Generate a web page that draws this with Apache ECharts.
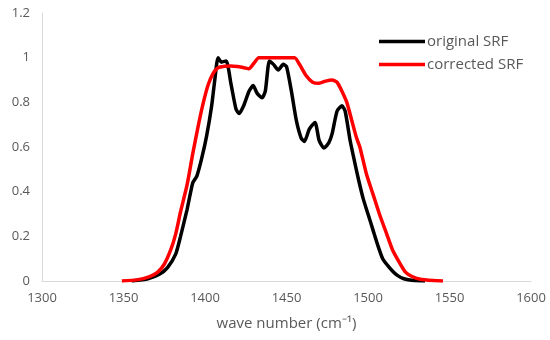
<!DOCTYPE html>
<html><head><meta charset="utf-8">
<script src="https://cdn.jsdelivr.net/npm/echarts@6/dist/echarts.min.js"></script>
<style>html,body{margin:0;padding:0;background:#fff}#c{width:550px;height:340px}</style>
</head><body><div id="c"></div>
<script>
const originalX = [1355,1365,1372,1377,1382,1385,1389,1392.5,1395,1398,1401,1404,1406,1408,1410,1413,1416,1419,1421,1424,1427,1429.5,1432,1435,1437,1439.5,1442,1445,1448,1450,1453,1456,1459,1461,1464,1467.5,1470,1473,1476,1478,1481,1484,1486,1489,1491,1494,1497,1500,1503,1506,1509,1512,1515,1518,1522,1528,1535];
const originalY = [0,0.01,0.03,0.06,0.12,0.2,0.32,0.44,0.47,0.55,0.65,0.78,0.9,1.0,0.98,0.985,0.88,0.77,0.75,0.79,0.85,0.875,0.84,0.82,0.85,0.985,0.97,0.945,0.97,0.96,0.85,0.72,0.64,0.625,0.68,0.71,0.63,0.595,0.62,0.66,0.76,0.785,0.76,0.63,0.56,0.46,0.37,0.3,0.23,0.16,0.1,0.07,0.045,0.025,0.01,0.002,0];
const correctedX = [1349,1358,1366,1371,1375,1379,1382,1385,1389,1392.5,1396,1399,1402,1405,1408,1412,1416,1420,1424,1427,1430,1433,1440,1448,1455,1458,1462,1466,1470,1474,1478,1481,1484,1487,1490,1493,1495,1499,1503,1507,1511.5,1515,1519.5,1523,1527,1532,1540,1546];
const correctedY = [0,0.005,0.02,0.04,0.075,0.14,0.21,0.31,0.43,0.57,0.7,0.8,0.88,0.93,0.955,0.962,0.963,0.96,0.955,0.95,0.975,1.0,1.0,1.0,1.0,0.97,0.92,0.89,0.885,0.895,0.9,0.89,0.85,0.8,0.72,0.64,0.6,0.48,0.39,0.3,0.21,0.14,0.08,0.04,0.02,0.008,0.002,0];
const seriesNames = ['original SRF','corrected SRF'];
const xName = 'wave number (cm\u207B\u00B9)';

const chart = echarts.init(document.getElementById('c'));
const txt = '#595959';
chart.setOption({
  animation:false,
  grid:{left:42,right:19,top:13,bottom:59},
  legend:{
    left:374, top:29, orient:'vertical', itemGap:8,
    itemWidth:46, itemHeight:17, icon:'path://M0,7 L46,7 L46,10.5 L0,10.5 Z',
    textStyle:{color:txt,fontSize:15,fontFamily:'Open Sans',padding:[0,0,0,-3]},
    data:seriesNames
  },
  xAxis:{type:'value',min:1300,max:1600,interval:50,
    name:xName,nameLocation:'middle',nameGap:35,
    nameTextStyle:{color:txt,fontSize:15,fontFamily:'Open Sans'},
    axisLine:{lineStyle:{color:'#d9d9d9',width:1}},axisTick:{show:false},
    axisLabel:{color:txt,fontSize:13,fontFamily:'Open Sans',margin:11,formatter:v=>String(v)},
    splitLine:{show:false}},
  yAxis:{type:'value',min:0,max:1.2,interval:0.2,
    axisLine:{show:true,lineStyle:{color:'#d9d9d9',width:1}},axisTick:{show:false},
    axisLabel:{color:txt,fontSize:13,fontFamily:'Open Sans',margin:12,formatter:v=>String(+v.toFixed(1))},
    splitLine:{show:false}},
  series:[
    {name:seriesNames[0],type:'line',showSymbol:false,smooth:0.2,
     lineStyle:{color:'#000',width:3.5},itemStyle:{color:'#000'},
     data:originalX.map((x,i)=>[x,originalY[i]])},
    {name:seriesNames[1],type:'line',showSymbol:false,smooth:0.2,
     lineStyle:{color:'#ff0000',width:3.5},itemStyle:{color:'#ff0000'},
     data:correctedX.map((x,i)=>[x,correctedY[i]])}
  ]
});
</script></body></html>
